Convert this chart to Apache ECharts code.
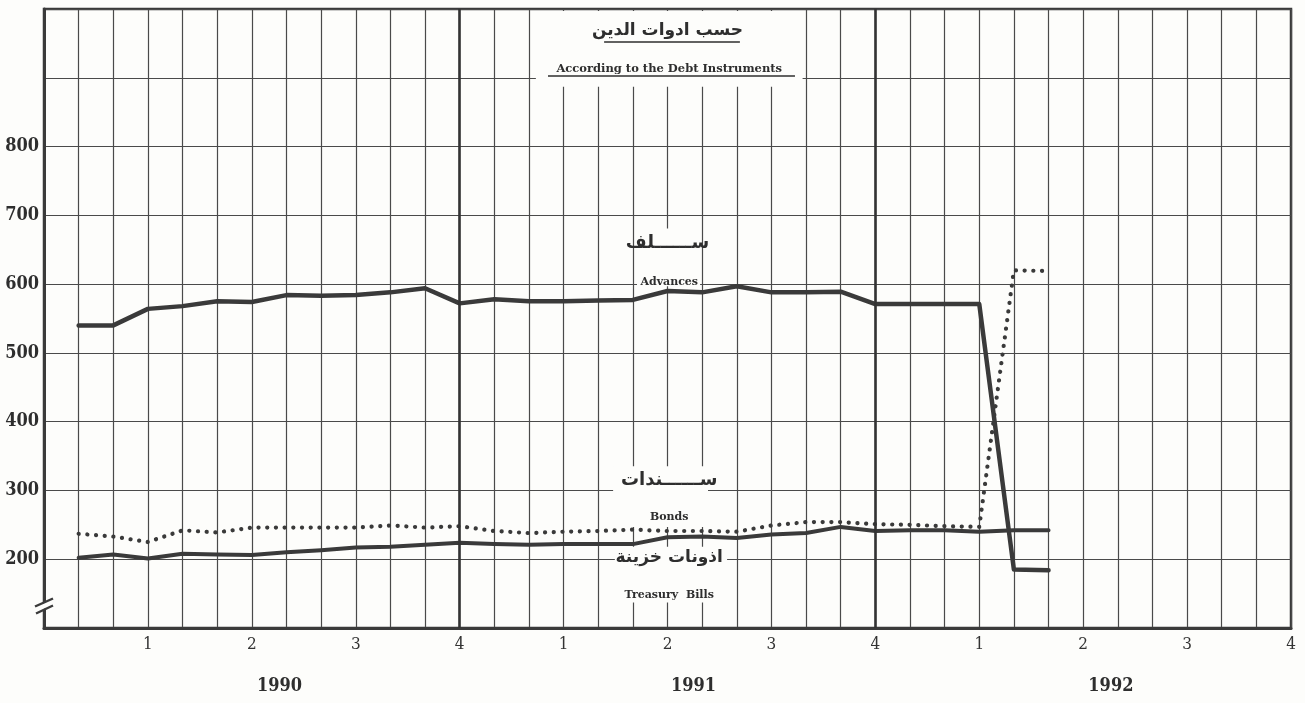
<!DOCTYPE html>
<html><head><meta charset="utf-8">
<script src="https://cdn.jsdelivr.net/npm/echarts@6/dist/echarts.min.js"></script>
<style>html,body{margin:0;padding:0;background:#fdfdfb}#c{width:1305px;height:703px}</style>
</head><body><div id="c"></div>
<script>
// Monthly observations, Jan 1990 .. May 1992
const months = ['1990-01','1990-02','1990-03','1990-04','1990-05','1990-06','1990-07','1990-08','1990-09','1990-10','1990-11','1990-12',
                '1991-01','1991-02','1991-03','1991-04','1991-05','1991-06','1991-07','1991-08','1991-09','1991-10','1991-11','1991-12',
                '1992-01','1992-02','1992-03','1992-04','1992-05'];
const advances = [540, 540, 564, 568, 575, 574, 584, 583, 584, 588, 594, 572,
                  578, 575, 575, 576, 577, 590, 588, 597, 588, 588, 589, 571,
                  571, 571, 571, 185, 184];
const bonds = [237, 233, 225, 242, 239, 246, 246, 246, 246, 249, 246, 248,
               241, 238, 240, 241, 243, 241, 241, 240, 249, 254, 254, 251,
               250, 248, 247, 620, 619];
const treasuryBills = [202, 207, 201, 208, 207, 206, 210, 213, 217, 218, 221, 224,
                       222, 221, 222, 222, 222, 232, 233, 231, 236, 238, 247, 241,
                       242, 242, 240, 242, 242];
const quarterLabels = ['1','2','3','4'];
const yearLabels = ['1990','1991','1992'];
const yearLabelPos = [6.8, 18.75, 30.8];
const yTickLabels = [200,300,400,500,600,700,800];

const toXY = arr => arr.map((v,i)=>[i+1, v]);
const INK = '#3a3a3a';
const GRIDC = '#4a4a4a';
const BG = '#fdfdfb';
const NUM_FONT = "'DejaVu Serif Condensed','DejaVu Serif',serif";
const SERIF = "'DejaVu Serif',serif";
const AR = "'DejaVu Sans',sans-serif";

const chart = echarts.init(document.getElementById('c'), null, {renderer:'canvas'});
chart.setOption({
  backgroundColor: BG,
  animation: false,
  grid: {left:44, right:14, top:9, bottom:75, show:true, borderColor:INK, borderWidth:2.5, backgroundColor:'transparent'},
  xAxis: {
    type:'value', min:0, max:36, interval:1,
    axisLine:{show:true, lineStyle:{color:INK, width:3}},
    axisTick:{show:false},
    splitLine:{show:true, lineStyle:{color:GRIDC, width:1.2}},
    axisLabel:{margin:8, color:'#333', fontFamily:NUM_FONT, fontSize:17,
      formatter: v => (v>0 && v%3===0) ? quarterLabels[(v/3-1)%4] : ''}
  },
  yAxis: {
    type:'value', min:100, max:1000, interval:100,
    axisLine:{show:true, lineStyle:{color:INK, width:3}},
    axisTick:{show:false},
    splitLine:{show:true, lineStyle:{color:GRIDC, width:1.2}},
    axisLabel:{margin:5, color:'#2e2e2e', fontFamily:NUM_FONT, fontWeight:'bold', fontSize:18,
      formatter: v => yTickLabels.includes(v) ? String(v) : ''}
  },
  series: [
    {type:'line', name:'Advances', data:toXY(advances), symbol:'none', z:2,
     lineStyle:{color:INK, width:4.5, join:'round', cap:'round'},
     markLine:{silent:true, symbol:'none', label:{show:false}, animation:false,
       lineStyle:{color:'#333', width:2.6, type:'solid'},
       data:[{xAxis:12},{xAxis:24}]}},
    {type:'line', name:'Bonds', data:toXY(bonds), symbol:'none', z:2,
     lineStyle:{color:INK, width:4.2, type:[0.1, 8.6], cap:'round', join:'round'}},
    {type:'line', name:'Treasury Bills', data:toXY(treasuryBills), symbol:'none', z:2,
     lineStyle:{color:INK, width:4, join:'round', cap:'round'}}
  ]
});

const P = (x,y) => chart.convertToPixel({gridIndex:0}, [x,y]);
const els = [];
function box(x0,x1,yTop,yBot){
  const a = P(x0,yTop), b = P(x1,yBot);
  els.push({type:'rect', z:1, shape:{x:a[0], y:a[1], width:b[0]-a[0], height:b[1]-a[1]}, style:{fill:BG}});
}
function txt(x,y,text,font,size,weight){
  const p = P(x,y);
  els.push({type:'text', z:1, x:p[0], y:p[1], style:{text, fontFamily:font, fontSize:size, fontWeight:weight||'normal', fill:'#2e2e2e', align:'center', verticalAlign:'middle'}});
}
function uline(x0,x1,y,w){
  const a = P(x0,y), b = P(x1,y);
  els.push({type:'line', z:1, shape:{x1:a[0], y1:a[1], x2:b[0], y2:b[1]}, style:{stroke:'#2e2e2e', lineWidth:w||1.4}});
}
// white label boxes (cover the grid)
const topPx = P(0,1000)[1];
(function(){
  const a = P(14.2, 1000), b = P(21.9, 887);
  els.push({type:'rect', z:1, shape:{x:a[0], y:a[1]+2, width:b[0]-a[0], height:b[1]-a[1]-2}, style:{fill:BG}});
})();
box(17.12, 18.94, 681, 597);
box(16.43, 19.17, 335, 247);
box(16.48, 19.72, 218, 137);
// titles
txt(18.0, 968, 'حسب ادوات الدين', AR, 17, 'bold');
uline(16.17, 20.09, 952, 1.5);
txt(18.05, 913, 'According to the Debt Instruments', SERIF, 11.5, 'bold');
uline(14.55, 21.68, 902.6, 1.5);
// series labels
txt(18.0, 659, 'ســــــلف', AR, 18, 'bold');
txt(18.05, 603, 'Advances', SERIF, 11, 'bold');
txt(18.05, 315, 'ســــــندات', AR, 18, 'bold');
txt(18.05, 261, 'Bonds', SERIF, 11, 'bold');
txt(18.05, 203, 'اذونات خزينة', AR, 17, 'bold');
txt(18.05, 148, 'Treasury  Bills', SERIF, 11, 'bold');
// year labels
yearLabels.forEach((t,i)=>{
  const p = P(yearLabelPos[i], 100);
  els.push({type:'text', z:1, x:p[0], y:p[1]+58, style:{text:t, fontFamily:NUM_FONT, fontSize:18, fontWeight:'bold', fill:'#2e2e2e', align:'center', verticalAlign:'middle'}});
});
// axis break symbol
(function(){
  const c = P(0, 132.7);
  const cx = c[0], cy = c[1];
  els.push({type:'line', z:1, shape:{x1:cx-8, y1:cy+4.5, x2:cx+8, y2:cy-3.5}, style:{stroke:BG, lineWidth:5}});
  els.push({type:'line', z:1, shape:{x1:cx-9, y1:cy+1, x2:cx+9, y2:cy-7}, style:{stroke:INK, lineWidth:2.4}});
  els.push({type:'line', z:1, shape:{x1:cx-8, y1:cy+8, x2:cx+9, y2:cy}, style:{stroke:INK, lineWidth:2.4}});
})();
chart.setOption({graphic:{elements:els}});
</script>
</body></html>
